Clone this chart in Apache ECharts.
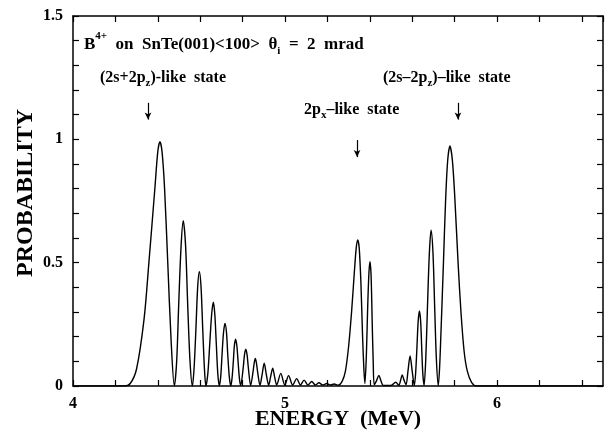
<!DOCTYPE html>
<html>
<head>
<meta charset="utf-8">
<script src="https://cdn.jsdelivr.net/npm/echarts@6/dist/echarts.min.js"></script>
<style>
html,body{margin:0;padding:0;background:#fff;}
#chart{width:614px;height:434px;}
</style>
</head>
<body>
<div id="chart"></div>
<script>
// Energy (MeV) values
const energy = [
  4.00, 4.20, 4.24, 4.27, 4.30, 4.335, 4.358, 4.387, 4.40, 4.41, 4.42, 4.432, 4.447, 4.463, 4.478,
  4.489, 4.499, 4.510, 4.520, 4.531, 4.541, 4.552, 4.563,
  4.571, 4.580, 4.588, 4.596, 4.604, 4.612, 4.620, 4.627,
  4.636, 4.645, 4.654, 4.662, 4.669, 4.676, 4.683, 4.690,
  4.697, 4.703, 4.710, 4.717, 4.724, 4.730, 4.737, 4.744,
  4.750, 4.756, 4.761, 4.767, 4.773, 4.779, 4.785, 4.791,
  4.803, 4.809, 4.815, 4.821, 4.827, 4.838,
  4.849, 4.855, 4.860, 4.865, 4.871, 4.882,
  4.892, 4.902, 4.912, 4.923,
  4.932, 4.942, 4.951, 4.961,
  4.980, 4.999,
  5.017, 5.036,
  5.055, 5.073,
  5.090, 5.108,
  5.126, 5.143,
  5.160, 5.178,
  5.197, 5.215,
  5.232, 5.250,
  5.270, 5.285, 5.300, 5.314, 5.327, 5.336, 5.343, 5.350, 5.358, 5.366, 5.372, 5.377,
  5.384, 5.390, 5.396, 5.401, 5.406, 5.411, 5.416, 5.421,
  5.432, 5.443, 5.453, 5.464, 5.500,
  5.522, 5.537,
  5.545, 5.553, 5.562, 5.571,
  5.580, 5.590, 5.600, 5.610,
  5.616, 5.622, 5.628, 5.634, 5.640, 5.645, 5.650, 5.656,
  5.664, 5.672, 5.681, 5.689, 5.698, 5.706, 5.714, 5.723,
  5.729, 5.735, 5.747, 5.757, 5.767, 5.778, 5.789, 5.800, 5.817, 5.830, 5.845, 5.860, 5.880, 5.904,
  6.50
];
// Probability values
const probability = [
  0.000, 0.000, 0.000, 0.010, 0.070, 0.270, 0.500, 0.810, 0.950, 0.990, 0.950, 0.800, 0.500, 0.180, 0.000,
  0.100, 0.340, 0.570, 0.670, 0.570, 0.330, 0.100, 0.000,
  0.070, 0.235, 0.400, 0.463, 0.400, 0.230, 0.070, 0.000,
  0.050, 0.170, 0.290, 0.340, 0.290, 0.170, 0.050, 0.000,
  0.040, 0.127, 0.217, 0.254, 0.217, 0.127, 0.040, 0.000,
  0.030, 0.095, 0.162, 0.190, 0.162, 0.095, 0.030, 0.002,
  0.075, 0.127, 0.149, 0.127, 0.075, 0.002,
  0.056, 0.095, 0.112, 0.095, 0.056, 0.003,
  0.046, 0.092, 0.046, 0.003,
  0.037, 0.072, 0.037, 0.004,
  0.051, 0.004,
  0.042, 0.004,
  0.030, 0.004,
  0.024, 0.004,
  0.018, 0.004,
  0.013, 0.004,
  0.010, 0.004,
  0.008, 0.003,
  0.020, 0.060, 0.160, 0.300, 0.460, 0.560, 0.592, 0.560, 0.420, 0.200, 0.070, 0.010,
  0.130, 0.320, 0.460, 0.504, 0.450, 0.270, 0.100, 0.005,
  0.022, 0.043, 0.020, 0.002, 0.002,
  0.015, 0.003,
  0.022, 0.045, 0.022, 0.005,
  0.060, 0.122, 0.060, 0.002,
  0.050, 0.150, 0.260, 0.304, 0.260, 0.150, 0.050, 0.002,
  0.110, 0.320, 0.540, 0.632, 0.540, 0.320, 0.110, 0.002,
  0.070, 0.200, 0.490, 0.740, 0.910, 0.973, 0.920, 0.780, 0.490, 0.300, 0.140, 0.060, 0.015, 0.000,
  0.000
];
const xTickLabels = ['4', '5', '6'];
const yTickLabels = ['0', '0.5', '1', '1.5'];
// Arrow annotations: energy, top and bottom probability
const arrowEnergy = [4.354, 5.340, 5.816];
const arrowTop = [1.148, 0.997, 1.148];
const arrowBottom = [1.080, 0.928, 1.080];

const points = energy.map((e, i) => [e, probability[i]]);
const FONT = '"Liberation Serif", "Times New Roman", serif';

function fmt(list) {
  return function (v) {
    for (const s of list) { if (Math.abs(parseFloat(s) - v) < 1e-6) return s; }
    return '';
  };
}

const chart = echarts.init(document.getElementById('chart'), null, {renderer: 'canvas'});
const axisCommon = {
  axisLine: {show: true, onZero: false, lineStyle: {color: '#000', width: 1.5}},
  axisTick: {show: true, inside: true, length: 6, lineStyle: {color: '#000', width: 1.2}},
  splitLine: {show: false},
  minorTick: {show: false}
};

const labelRich = {
  n: {fontFamily: FONT, fontWeight: 'bold', fontSize: 16, fill: '#000', lineHeight: 20, verticalAlign: 'bottom'},
  sub: {fontFamily: FONT, fontWeight: 'bold', fontSize: 11, fill: '#000', lineHeight: 12, verticalAlign: 'bottom', padding: [0, 0, -3, 0]}
};

chart.setOption({
  animation: false,
  backgroundColor: '#fff',
  grid: {left: 73, right: 11, top: 16, bottom: 48, containLabel: false, outerBoundsMode: 'none'},
  xAxis: [
    Object.assign({
      type: 'value', min: 4, max: 6.5, interval: 0.2, position: 'bottom',
      name: 'ENERGY  (MeV)', nameLocation: 'middle', nameGap: 22, nameMoveOverlap: false,
      nameTextStyle: {fontFamily: FONT, fontWeight: 'bold', fontSize: 22, color: '#000'},
      axisLabel: {show: true, formatter: fmt(xTickLabels), fontFamily: FONT, fontWeight: 'bold', fontSize: 16, color: '#000', margin: 10, showMaxLabel: false}
    }, axisCommon),
    Object.assign({
      type: 'value', min: 4, max: 6.5, interval: 0.2, position: 'top',
      axisLabel: {show: false}
    }, axisCommon)
  ],
  yAxis: [
    Object.assign({
      type: 'value', min: 0, max: 1.5, interval: 0.1, position: 'left',
      name: 'PROBABILITY', nameLocation: 'middle', nameGap: 35, nameRotate: 90, nameMoveOverlap: false,
      nameTextStyle: {fontFamily: FONT, fontWeight: 'bold', fontSize: 24, color: '#000', padding: [0, 0, 0, 16]},
      axisLabel: {show: true, formatter: fmt(yTickLabels), fontFamily: FONT, fontWeight: 'bold', fontSize: 16, color: '#000', margin: 10}
    }, axisCommon),
    Object.assign({
      type: 'value', min: 0, max: 1.5, interval: 0.1, position: 'right',
      axisLabel: {show: false}
    }, axisCommon)
  ],
  series: [{
    type: 'line',
    data: points,
    xAxisIndex: 0, yAxisIndex: 0,
    smooth: 0.3,
    showSymbol: false,
    symbol: 'none',
    clip: true,
    lineStyle: {color: '#000', width: 1.4},
    emphasis: {disabled: true},
    markLine: {
      silent: true,
      symbol: ['none', 'arrow'],
      symbolSize: [5, 7],
      label: {show: false},
      lineStyle: {color: '#000', width: 1.2, type: 'solid'},
      data: arrowEnergy.map((e, i) => [{coord: [e, arrowTop[i]]}, {coord: [e, arrowBottom[i]]}])
    }
  }],
  graphic: [
    {
      type: 'text', left: 84, top: 31,
      style: {
        text: '{n|B}{sup|4+}{n|  on  SnTe(001)<100>  θ}{sub|i}{n|  =  2  mrad}',
        rich: {
          n: {fontFamily: FONT, fontWeight: 'bold', fontSize: 17, fill: '#000', lineHeight: 22, verticalAlign: 'bottom'},
          sup: {fontFamily: FONT, fontWeight: 'bold', fontSize: 11, fill: '#000', lineHeight: 22, verticalAlign: 'top'},
          sub: {fontFamily: FONT, fontWeight: 'bold', fontSize: 11, fill: '#000', lineHeight: 14, verticalAlign: 'bottom', padding: [0, 0, -4, 0]}
        }
      }
    },
    {
      type: 'text', left: 100, top: 70,
      style: {text: '{n|(2s+2p}{sub|z}{n|)-like  state}', rich: labelRich}
    },
    {
      type: 'text', left: 383, top: 70,
      style: {text: '{n|(2s–2p}{sub|z}{n|)–like  state}', rich: labelRich}
    },
    {
      type: 'text', left: 304, top: 102,
      style: {text: '{n|2p}{sub|x}{n|–like  state}', rich: labelRich}
    }
  ]
});
</script>
</body>
</html>
